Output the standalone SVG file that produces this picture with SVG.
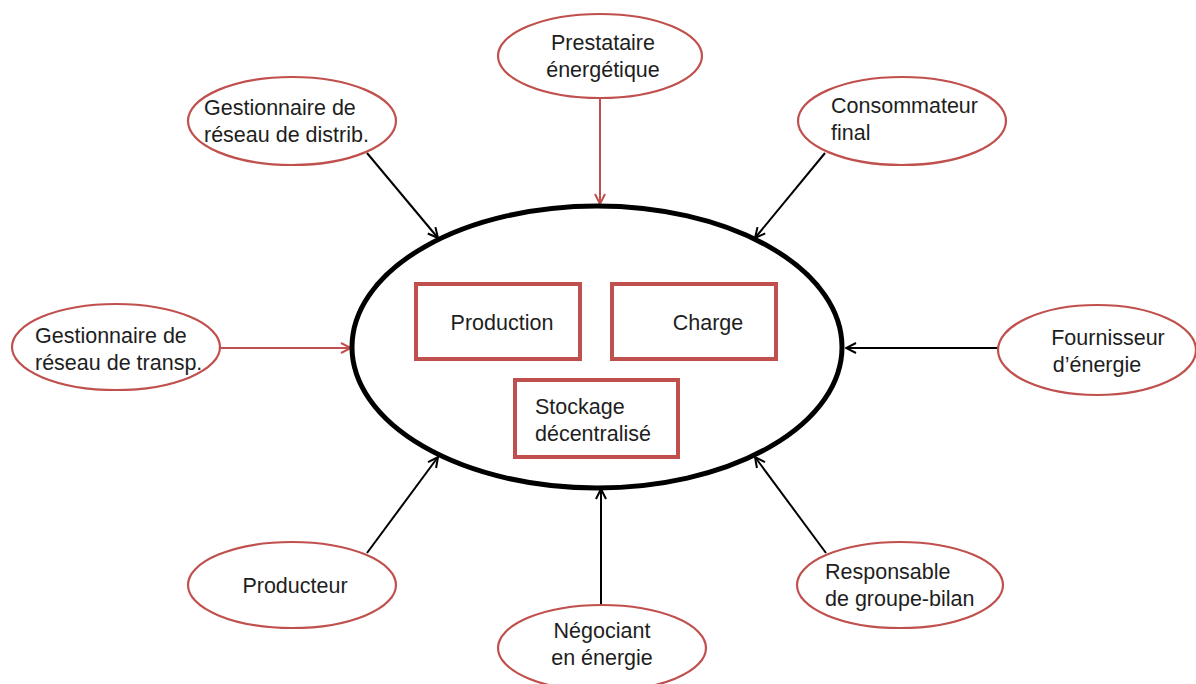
<svg xmlns="http://www.w3.org/2000/svg" width="1196" height="684" viewBox="0 0 1196 684">
  <style>
    .actor { fill: #ffffff; stroke: #c0504d; stroke-width: 2.2; }
    .box { fill: #ffffff; stroke: #c0504d; stroke-width: 4; }
    .core { fill: #ffffff; stroke: #000000; stroke-width: 5; }
    text { font-family: "Liberation Sans", Arial, sans-serif; font-size: 21.5px; fill: #1e1e1e; }
    .c { text-anchor: middle; }
    .link { fill: none; stroke: #000000; stroke-width: 2; }
    .link.red { stroke: #c0504d; }
  </style>
  <defs>
    <marker id="vBlack" viewBox="0 0 12 12" refX="11" refY="6" markerWidth="12" markerHeight="12" markerUnits="userSpaceOnUse" orient="auto">
      <path d="M1,1 L11,6 L1,11" fill="none" stroke="#000000" stroke-width="2"/>
    </marker>
    <marker id="vRed" viewBox="0 0 12 12" refX="11" refY="6" markerWidth="12" markerHeight="12" markerUnits="userSpaceOnUse" orient="auto">
      <path d="M1,1 L11,6 L1,11" fill="none" stroke="#c0504d" stroke-width="2"/>
    </marker>
  </defs>
  <rect width="1196" height="684" fill="#ffffff"/>

  <!-- connectors -->
  <g id="connectors">
    <line class="link red" x1="600" y1="98" x2="600" y2="204" marker-end="url(#vRed)"/>
    <line class="link" x1="367" y1="153" x2="438" y2="238" marker-end="url(#vBlack)"/>
    <line class="link" x1="825" y1="153" x2="755" y2="238" marker-end="url(#vBlack)"/>
    <line class="link red" x1="220" y1="348" x2="351" y2="348" marker-end="url(#vRed)"/>
    <line class="link" x1="998" y1="348" x2="846" y2="348" marker-end="url(#vBlack)"/>
    <line class="link" x1="367" y1="553" x2="438" y2="457" marker-end="url(#vBlack)"/>
    <line class="link" x1="601" y1="605" x2="601" y2="489" marker-end="url(#vBlack)"/>
    <line class="link" x1="826" y1="553" x2="755" y2="457" marker-end="url(#vBlack)"/>
  </g>

  <!-- central system -->
  <g id="system">
    <ellipse class="core" cx="597" cy="347" rx="245" ry="141"/>
  </g>
  <g id="production">
    <rect class="box" x="416" y="284" width="164" height="75"/>
    <text class="c" x="502" y="330">Production</text>
  </g>
  <g id="charge">
    <rect class="box" x="612" y="284" width="164" height="75"/>
    <text class="c" x="708" y="330">Charge</text>
  </g>
  <g id="stockage">
    <rect class="box" x="515" y="380" width="163" height="77"/>
    <text x="535" y="414">Stockage</text>
    <text x="535" y="441">décentralisé</text>
  </g>

  <!-- actors -->
  <g id="prestataire">
    <ellipse class="actor" cx="600" cy="56" rx="102" ry="42"/>
    <text class="c" x="603" y="50">Prestataire</text>
    <text class="c" x="603" y="77">énergétique</text>
  </g>
  <g id="gestionnaire-distrib">
    <ellipse class="actor" cx="292" cy="121" rx="104" ry="44"/>
    <text x="204" y="115">Gestionnaire de</text>
    <text x="204" y="142">réseau de distrib.</text>
  </g>
  <g id="consommateur">
    <ellipse class="actor" cx="902" cy="121" rx="104" ry="44"/>
    <text x="831" y="113">Consommateur</text>
    <text x="831" y="140">final</text>
  </g>
  <g id="gestionnaire-transp">
    <ellipse class="actor" cx="116" cy="347" rx="104" ry="43"/>
    <text x="35" y="343">Gestionnaire de</text>
    <text x="35" y="370">réseau de transp.</text>
  </g>
  <g id="fournisseur">
    <ellipse class="actor" cx="1097" cy="350" rx="99" ry="45"/>
    <text class="c" x="1108" y="345">Fournisseur</text>
    <text class="c" x="1097" y="372">d’énergie</text>
  </g>
  <g id="producteur">
    <ellipse class="actor" cx="292" cy="585" rx="104" ry="43"/>
    <text class="c" x="295" y="593">Producteur</text>
  </g>
  <g id="negociant">
    <ellipse class="actor" cx="602" cy="648" rx="104" ry="43"/>
    <text class="c" x="602" y="638">Négociant</text>
    <text class="c" x="602" y="665">en énergie</text>
  </g>
  <g id="responsable">
    <ellipse class="actor" cx="900" cy="585" rx="103" ry="43"/>
    <text x="825" y="579">Responsable</text>
    <text x="825" y="606">de groupe-bilan</text>
  </g>
</svg>
